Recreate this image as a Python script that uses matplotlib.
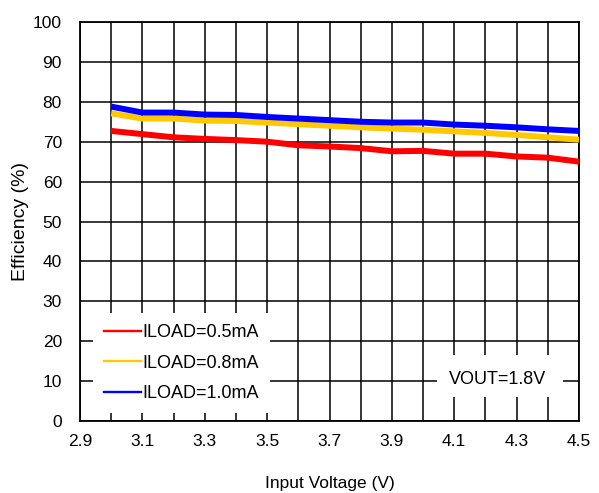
import matplotlib
matplotlib.use("Agg")
import matplotlib.pyplot as plt
from matplotlib.lines import Line2D
from matplotlib.patches import Rectangle
import numpy as np

plt.rcParams['font.family'] = ['Liberation Sans', 'DejaVu Sans']

vin = [3.0, 3.1, 3.2, 3.3, 3.4, 3.5, 3.6, 3.7, 3.8, 3.9, 4.0, 4.1, 4.2, 4.3, 4.4, 4.5]
eff_05 = [72.7, 71.9, 71.1, 70.7, 70.4, 70.0, 69.1, 68.8, 68.4, 67.6, 67.7, 67.0, 67.0, 66.3, 66.0, 65.0]
eff_08 = [77.1, 75.8, 75.8, 75.3, 75.2, 74.8, 74.4, 74.0, 73.6, 73.3, 73.0, 72.6, 72.2, 71.7, 71.1, 70.5]
eff_10 = [78.8, 77.3, 77.3, 76.8, 76.7, 76.2, 75.8, 75.4, 75.0, 74.8, 74.8, 74.3, 74.0, 73.6, 73.1, 72.7]
labels = ['ILOAD=0.5mA', 'ILOAD=0.8mA', 'ILOAD=1.0mA']
colors = ['#ff0000', '#ffc800', '#0000ff']
xticks = [2.9, 3.1, 3.3, 3.5, 3.7, 3.9, 4.1, 4.3, 4.5]
yticks = list(range(0, 101, 10))

W, H = 599, 493
L, R, T, B = 80, 579, 22, 421
fig = plt.figure(figsize=(W/100, H/100), dpi=100)
ax = fig.add_axes([L/W, 1-B/H, (R-L)/W, (B-T)/H])

def ax_frac(px, py):
    return ((px-L)/(R-L), (B-py)/(B-T))

for y, c in zip([eff_05, eff_08, eff_10], colors):
    ax.plot(vin, y, color=c, lw=4.3, solid_capstyle='butt', zorder=3)

ax.set_xlim(2.9, 4.5)
ax.set_ylim(0, 100)
ax.set_xticks(np.round(np.arange(2.9, 4.51, 0.1), 2), minor=True)
ax.set_xticks(xticks)
ax.set_xticklabels([f"{v:.1f}" for v in xticks])
ax.set_yticks(yticks)
ax.grid(True, which='both', color='black', lw=1.1, zorder=1)
ax.set_axisbelow(True)
ax.tick_params(which='both', length=0, labelsize=12.5)
ax.tick_params(axis='x', pad=9)
ax.tick_params(axis='y', pad=13)
for s in ax.spines.values():
    s.set_linewidth(1.3)

ax.set_xlabel('Input Voltage (V)', fontsize=12.5, labelpad=20)
ax.set_ylabel('Efficiency (%)', fontsize=14, labelpad=3)

# legend (white box covering grid)
handles = [Line2D([], [], color=c, lw=1.7) for c in colors]
leg = ax.legend(handles, labels, loc='center',
                bbox_to_anchor=ax_frac(181.5, 363),
                frameon=True, fancybox=False, framealpha=1,
                handlelength=2.05, handletextpad=0.1, borderpad=0.6, labelspacing=0.74,
                prop={'size': 13})
leg.get_frame().set_edgecolor('white')
leg.get_frame().set_linewidth(0)

# VOUT box
bx0, by0 = ax_frac(437, 397)
bx1, by1 = ax_frac(563, 355)
ax.add_patch(Rectangle((bx0, by0), bx1-bx0, by1-by0, transform=ax.transAxes,
                       facecolor='white', edgecolor='none', zorder=4))
tx, ty = ax_frac(498, 380)
ax.text(tx, ty, 'VOUT=1.8V', transform=ax.transAxes,
        ha='center', va='center', fontsize=13, zorder=5)

fig.savefig('out.png', dpi=100)
